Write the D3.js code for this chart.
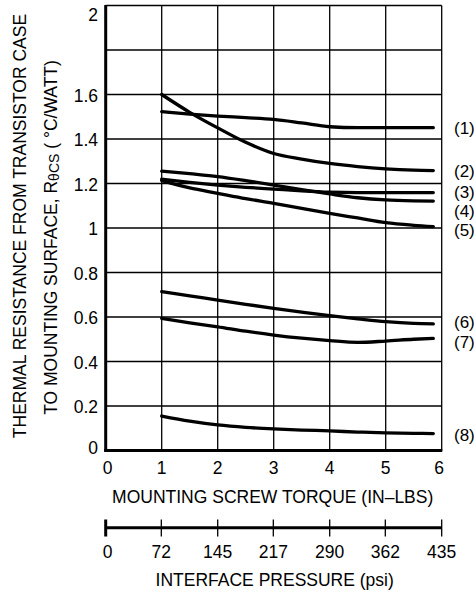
<!DOCTYPE html>
<html>
<head>
<meta charset="utf-8">
<script src="https://cdn.jsdelivr.net/npm/d3@7"></script>
<style>
  html, body { margin: 0; padding: 0; background: #fff; }
  svg { display: block; }
  text { font-family: "Liberation Sans", Arial, sans-serif; fill: #000; }
</style>
</head>
<body>
<svg id="chart" width="474" height="594"></svg>
<script>
// ---------- DATA ----------
const torque = [1, 1.5, 2, 2.5, 3, 3.5, 4, 4.5, 5, 5.5, 5.85];
const series1 = [1.523, 1.512, 1.503, 1.496, 1.488, 1.472, 1.455, 1.451, 1.451, 1.451, 1.451];
const series2 = [1.600, 1.520, 1.450, 1.385, 1.335, 1.310, 1.290, 1.276, 1.266, 1.260, 1.258];
const series3 = [1.219, 1.205, 1.193, 1.183, 1.175, 1.167, 1.161, 1.159, 1.159, 1.159, 1.159];
const series4 = [1.256, 1.244, 1.231, 1.213, 1.193, 1.172, 1.153, 1.136, 1.126, 1.122, 1.121];
const series5 = [1.213, 1.180, 1.156, 1.132, 1.111, 1.088, 1.066, 1.045, 1.024, 1.012, 1.006];
const series6 = [0.714, 0.695, 0.676, 0.657, 0.639, 0.622, 0.606, 0.592, 0.579, 0.571, 0.569];
const series7 = [0.594, 0.574, 0.556, 0.536, 0.519, 0.505, 0.494, 0.486, 0.492, 0.500, 0.504];
const series8 = [0.155, 0.132, 0.115, 0.104, 0.097, 0.092, 0.088, 0.083, 0.079, 0.077, 0.076];
const seriesLabels = ["(1)", "(2)", "(3)", "(4)", "(5)", "(6)", "(7)", "(8)"];
const labelValues = [1.451, 1.258, 1.163, 1.078, 0.991, 0.577, 0.490, 0.073];

const xTicks = [0, 1, 2, 3, 4, 5, 6];
const yTicks = [0, 0.2, 0.4, 0.6, 0.8, 1, 1.2, 1.4, 1.6, 2];
const yTickLabels = ["0", "0.2", "0.4", "0.6", "0.8", "1", "1.2", "1.4", "1.6", "2"];
const yGrid = [0.2, 0.4, 0.6, 0.8, 1, 1.2, 1.4, 1.6, 1.8, 2];
const pressureTicks = [0, 72, 145, 217, 290, 362, 435];

const xTitle = "MOUNTING SCREW TORQUE (IN\u2013LBS)";
const pTitle = "INTERFACE PRESSURE (psi)";
const yTitle1 = "THERMAL RESISTANCE FROM TRANSISTOR CASE";
const yTitle2a = "TO MOUNTING SURFACE, R";
const yTitle2sub = "\u03B8CS";
const yTitle2b = " ( \u00B0C/WATT)";

// ---------- LAYOUT ----------
const L = 105.7, R = 441.7, T = 5.5, B = 450.5;
const FS = 17.5;

const svg = d3.select("#chart");
const x = d3.scaleLinear().domain([0, 6]).range([L, R]);
const y = d3.scaleLinear().domain([0, 2]).range([B, T]);
const xp = d3.scaleLinear().domain([0, 435]).range([L, R]);

// grid
svg.append("g").selectAll("line").data(yGrid).join("line")
  .attr("x1", L).attr("x2", R).attr("y1", d => y(d)).attr("y2", d => y(d))
  .attr("stroke", "#000").attr("stroke-width", 1.3);
svg.append("g").selectAll("line").data(xTicks.slice(1)).join("line")
  .attr("x1", d => x(d)).attr("x2", d => x(d)).attr("y1", T).attr("y2", B)
  .attr("stroke", "#000").attr("stroke-width", 1.3);

// axes (thick)
svg.append("line").attr("x1", L).attr("x2", L).attr("y1", T - 0.6).attr("y2", B + 1.5)
  .attr("stroke", "#000").attr("stroke-width", 3);
svg.append("line").attr("x1", L - 1.5).attr("x2", R + 0.6).attr("y1", B).attr("y2", B)
  .attr("stroke", "#000").attr("stroke-width", 3);

// y tick labels
svg.append("g").selectAll("text").data(yTicks).join("text")
  .attr("x", 98).attr("text-anchor", "end").attr("font-size", FS)
  .attr("y", (d, i) => d === 2 ? y(d) + 15 : d === 0 ? y(d) + 3.5 : y(d) + 7)
  .text((d, i) => yTickLabels[i]);

// x tick labels
svg.append("g").selectAll("text").data(xTicks).join("text")
  .attr("x", d => x(d) + (d === 0 ? 2 : d === 6 ? -2.5 : 0))
  .attr("y", 474).attr("text-anchor", "middle").attr("font-size", FS)
  .text(d => d);

svg.append("text").attr("x", (L + R) / 2 - 1).attr("y", 503.3)
  .attr("text-anchor", "middle").attr("font-size", FS).text(xTitle);

// pressure axis
svg.append("line").attr("x1", xp(0)).attr("x2", xp(435)).attr("y1", 527.7).attr("y2", 527.7)
  .attr("stroke", "#000").attr("stroke-width", 3);
svg.append("g").selectAll("line").data(pressureTicks).join("line")
  .attr("x1", d => xp(d)).attr("x2", d => xp(d))
  .attr("y1", 519.5).attr("y2", 536.5)
  .attr("stroke", "#000").attr("stroke-width", (d, i) => i === 0 ? 3 : 1.3);
svg.append("g").selectAll("text").data(pressureTicks).join("text")
  .attr("x", d => xp(d) + (d === 0 ? 2 : 0))
  .attr("y", 558.3).attr("text-anchor", "middle").attr("font-size", FS)
  .text(d => d);
svg.append("text").attr("x", (L + R) / 2 + 1).attr("y", 586)
  .attr("text-anchor", "middle").attr("font-size", FS).text(pTitle);

// y titles
svg.append("text").attr("transform", "translate(26,226) rotate(-90)")
  .attr("text-anchor", "middle").attr("font-size", FS).text(yTitle1);
const t2 = svg.append("text").attr("transform", "translate(56.5,237.5) rotate(-90)")
  .attr("text-anchor", "middle").attr("font-size", FS);
t2.append("tspan").text(yTitle2a);
t2.append("tspan").attr("font-size", 14).attr("dy", 2).text(yTitle2sub);
t2.append("tspan").attr("dy", -2).text(yTitle2b);

// curves
const allSeries = [series1, series2, series3, series4, series5, series6, series7, series8];
const line = d3.line()
  .x((d, i) => x(torque[i]))
  .y(d => y(d))
  .curve(d3.curveMonotoneX);
svg.append("g").selectAll("path").data(allSeries).join("path")
  .attr("d", d => line(d))
  .attr("fill", "none").attr("stroke", "#000").attr("stroke-width", 3.3)
  .attr("stroke-linecap", "round").attr("stroke-linejoin", "round");

// series labels
svg.append("g").selectAll("text").data(seriesLabels).join("text")
  .attr("x", 454).attr("y", (d, i) => y(labelValues[i]) + 6.3)
  .attr("font-size", 17).text(d => d);
</script>
</body>
</html>
